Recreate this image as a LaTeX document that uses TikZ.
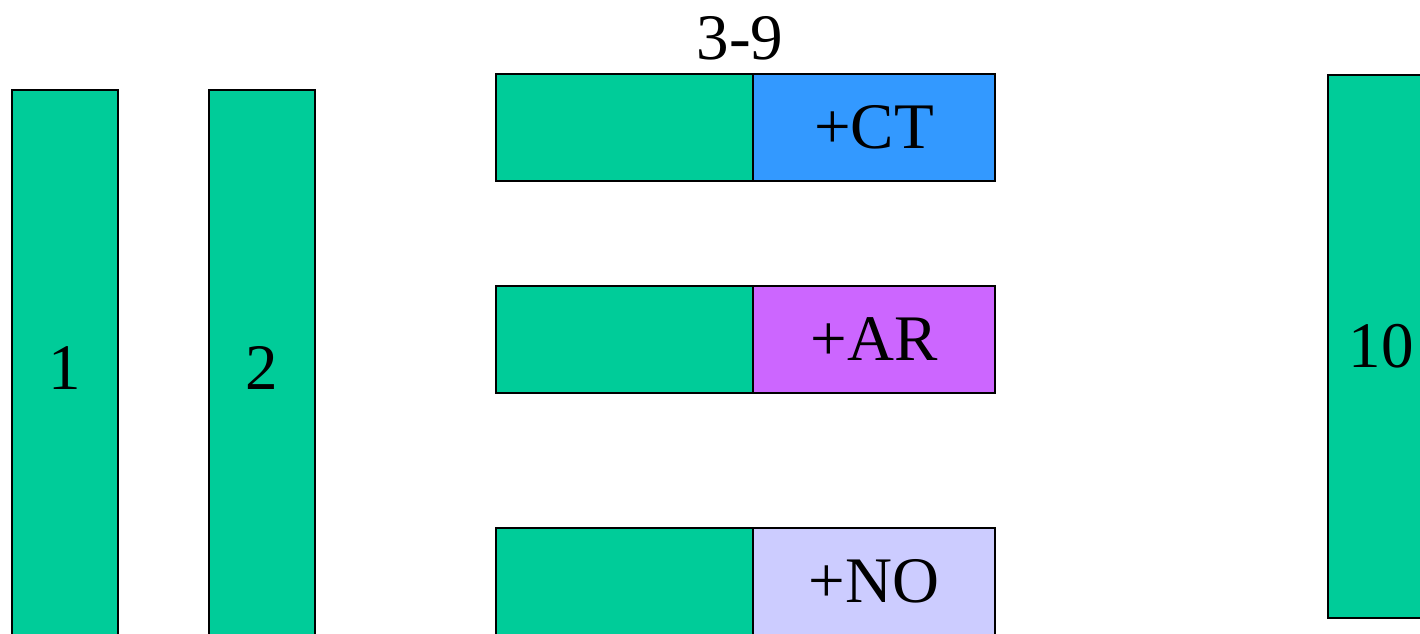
\documentclass[tikz,border=0pt]{standalone}
\usepackage{fontspec}
\setmainfont{Liberation Serif}
\usepackage{tikz}
\usetikzlibrary{positioning}

\definecolor{segGreen}{HTML}{00CC99}
\definecolor{segBlue}{HTML}{3399FF}
\definecolor{segPurple}{HTML}{CC66FF}
\definecolor{segLav}{HTML}{CCCCFF}

\tikzset{
  seg/.style={draw=black, line width=1.2pt, inner sep=0pt, outer sep=0pt,
    font=\fontsize{37}{40}\selectfont},
  bar/.style={seg, fill=segGreen, minimum width=2.12cm, minimum height=11.12cm},
  head/.style={seg, fill=segGreen, minimum width=5.14cm, minimum height=2.14cm},
  tail/.style={seg, minimum width=4.84cm, minimum height=2.14cm, anchor=west}
}

\begin{document}
\begin{tikzpicture}[x=0.02cm, y=-0.02cm]
  \useasboundingbox (0,0) rectangle (1420,633);

  % Bars
  \node[bar] (b1) at (65,368) {1};
  \node[bar] (b2) at (262,368) {2};
  \node[bar, minimum height=10.86cm] (b10) at (1381,346.5) {10};

  % Segments
  \node[head] (hCT) at (624.5,127.5) {};
  \node[tail, fill=segBlue] (tCT) at (hCT.east) {+CT};
  \node[head] (hAR) at (624.5,339.5) {};
  \node[tail, fill=segPurple] (tAR) at (hAR.east) {+AR};
  \node[head] (hNO) at (624.5,581.5) {};
  \node[tail, fill=segLav] (tNO) at (hNO.east) {+NO};

  % Label
  \node[font=\fontsize{37}{40}\selectfont] (lbl) at (740,38) {3-9};
\end{tikzpicture}
\end{document}
